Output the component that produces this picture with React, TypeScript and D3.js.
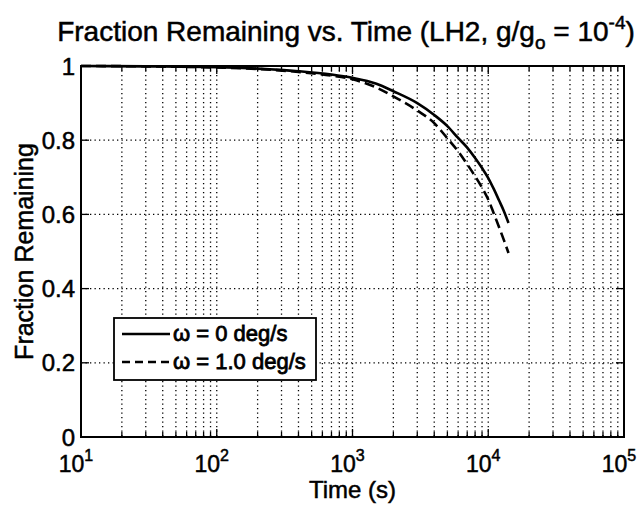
import React from "react";
import * as d3 from "d3";

const timeSolid = [10, 30, 100, 200, 400, 700, 1000, 1500, 2000, 3000, 4000, 5000, 6000, 7000, 8000, 9000, 10000, 11000, 12000, 13000, 14100];
const fracSolid = [1.0, 0.999, 0.997, 0.993, 0.986, 0.977, 0.968, 0.952, 0.932, 0.9, 0.868, 0.838, 0.806, 0.78, 0.752, 0.725, 0.698, 0.668, 0.638, 0.61, 0.577];
const timeDashed = [10, 30, 100, 200, 400, 700, 1000, 1500, 2000, 3000, 4000, 5000, 6000, 7000, 8000, 9000, 10000, 11000, 12000, 13000, 14100];
const fracDashed = [1.0, 0.999, 0.996, 0.992, 0.984, 0.974, 0.964, 0.942, 0.918, 0.88, 0.846, 0.805, 0.77, 0.735, 0.703, 0.672, 0.64, 0.602, 0.566, 0.532, 0.496];
const xDecades = [1, 2, 3, 4, 5];
const yTicks = [0, 0.2, 0.4, 0.6, 0.8, 1];
const yTickLabels = ["0", "0.2", "0.4", "0.6", "0.8", "1"];
const legendLabels = ["\u03c9 = 0 deg/s", "\u03c9 = 1.0 deg/s"];

const W = 644, H = 505;
const L = 81, R = 624, T = 66, B = 437;
const FONT = "'Liberation Sans', Arial, sans-serif";

export default function App() {
  const x = d3.scaleLog().domain([10, 100000]).range([L, R]);
  const y = d3.scaleLinear().domain([0, 1]).range([B, T]);
  const line = d3.line<[number, number]>().x(d => x(d[0])).y(d => y(d[1])).curve(d3.curveMonotoneX);
  const solid = line(timeSolid.map((t, i) => [t, fracSolid[i]]) as [number, number][]) || "";
  const dashed = line(timeDashed.map((t, i) => [t, fracDashed[i]]) as [number, number][]) || "";

  const minor: number[] = [];
  for (let d = 1; d < 5; d++) for (let m = 2; m <= 9; m++) minor.push(m * Math.pow(10, d));
  const majors = xDecades.map(e => Math.pow(10, e));
  const textStyle = { fontFamily: FONT, fill: "#000", stroke: "#000", strokeWidth: 0.5 } as const;

  return (
    <svg width={W} height={H} style={{ position: "absolute", left: 0, top: 0, background: "#fff" }}>
      <rect x={0} y={0} width={W} height={H} fill="#fff" />
      {/* grid */}
      <g stroke="#000" strokeWidth={1.3} strokeDasharray="1.3,3.2">
        {[...minor, ...majors.slice(1, -1)].map((v, i) => (
          <line key={"gx" + i} x1={x(v)} x2={x(v)} y1={T} y2={B} />
        ))}
        {yTicks.slice(1, -1).map((v, i) => (
          <line key={"gy" + i} x1={L} x2={R} y1={y(v)} y2={y(v)} />
        ))}
      </g>
      {/* ticks */}
      <g stroke="#000" strokeWidth={1.3}>
        {minor.map((v, i) => (
          <g key={"mt" + i}>
            <line x1={x(v)} x2={x(v)} y1={B} y2={B - 5} />
            <line x1={x(v)} x2={x(v)} y1={T} y2={T + 5} />
          </g>
        ))}
        {majors.map((v, i) => (
          <g key={"Mt" + i}>
            <line x1={x(v)} x2={x(v)} y1={B} y2={B - 8} />
            <line x1={x(v)} x2={x(v)} y1={T} y2={T + 8} />
          </g>
        ))}
        {yTicks.map((v, i) => (
          <g key={"yt" + i}>
            <line x1={L} x2={L + 8} y1={y(v)} y2={y(v)} />
            <line x1={R} x2={R - 8} y1={y(v)} y2={y(v)} />
          </g>
        ))}
      </g>
      {/* curves */}
      <path d={solid} fill="none" stroke="#000" strokeWidth={2.6} />
      <path d={dashed} fill="none" stroke="#000" strokeWidth={2.6} strokeDasharray="10,5" />
      {/* frame */}
      <rect x={L} y={T} width={R - L} height={B - T} fill="none" stroke="#000" strokeWidth={2} />
      {/* y tick labels */}
      {yTicks.map((v, i) => (
        <text key={"yl" + i} x={L - 6} y={y(v) + 8.5} textAnchor="end" fontSize={24} style={textStyle}>
          {yTickLabels[i]}
        </text>
      ))}
      {/* x tick labels */}
      {xDecades.map((e, i) => (
        <text key={"xl" + i} x={x(Math.pow(10, e)) - 5} y={472} textAnchor="middle" fontSize={23} style={textStyle}>
          10<tspan fontSize={16} dy={-11}>{e}</tspan>
        </text>
      ))}
      {/* axis labels */}
      <text x={(L + R) / 2} y={498} textAnchor="middle" fontSize={24} style={textStyle}>Time (s)</text>
      <text transform={`translate(33,${(T + B) / 2}) rotate(-90)`} textAnchor="middle" fontSize={25} style={textStyle}>
        Fraction Remaining
      </text>
      {/* title */}
      <text x={346} y={41} textAnchor="middle" fontSize={28} style={textStyle}>
        Fraction Remaining vs. Time (LH2, g/g<tspan fontSize={19} dy={8}>o</tspan>
        <tspan dy={-8}> = 10</tspan>
        <tspan fontSize={19} dy={-12}>-4</tspan>
        <tspan dy={12}>)</tspan>
      </text>
      {/* legend */}
      <rect x={114} y={318} width={202} height={62} fill="#fff" stroke="#000" strokeWidth={1.8} />
      <line x1={122} x2={170} y1={334} y2={334} stroke="#000" strokeWidth={2.6} />
      <line x1={122} x2={170} y1={362} y2={362} stroke="#000" strokeWidth={2.6} strokeDasharray="8,5" />
      {legendLabels.map((lab, i) => (
        <text key={"lg" + i} x={173} y={341 + i * 28} fontSize={22} style={{ ...textStyle, strokeWidth: 0.8 }}>
          {lab}
        </text>
      ))}
    </svg>
  );
}
